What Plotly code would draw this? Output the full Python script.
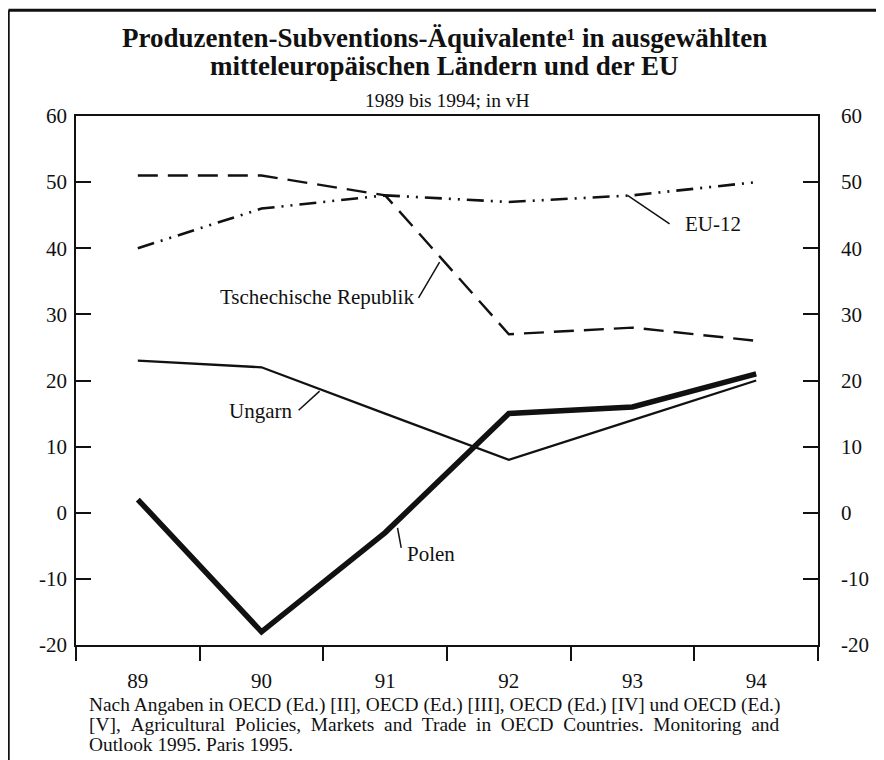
import plotly.graph_objects as go

JAHRE = ["89", "90", "91", "92", "93", "94"]
TSCHECHIEN = [51, 51, 48, 27, 28, 26]
EU12 = [40, 46, 48, 47, 48, 50]
UNGARN = [23, 22, 15, 8, 14, 20]
POLEN = [2, -18, -3, 15, 16, 21]
Y_TICKS = [-20, -10, 0, 10, 20, 30, 40, 50, 60]
Y_TICKTEXT = [str(v) for v in Y_TICKS]  # plain hyphen like the original

SERIF = "Liberation Serif, Times New Roman, serif"
INK = "#111111"
NB = "\u00a0"

fig = go.Figure()

fig.add_trace(go.Scatter(x=JAHRE, y=TSCHECHIEN, mode="lines",
                         line=dict(color=INK, width=2.4, dash="20px,10px")))
fig.add_trace(go.Scatter(x=JAHRE, y=EU12, mode="lines",
                         line=dict(color=INK, width=2.6,
                                   dash="17px,7px,2px,7px,2px,7px")))
fig.add_trace(go.Scatter(x=JAHRE, y=UNGARN, mode="lines",
                         line=dict(color=INK, width=2.3)))
fig.add_trace(go.Scatter(x=JAHRE, y=POLEN, mode="lines",
                         line=dict(color=INK, width=5.5)))
# invisible trace so the right axis is drawn
fig.add_trace(go.Scatter(x=JAHRE, y=EU12, yaxis="y2", mode="lines",
                         line=dict(width=0), hoverinfo="skip"))

labels = [
    # text, x, y, anchor, leader from, leader to
    ("EU-12", 4.41, 43.6, "left", (3.96, 48.0), (4.30, 43.7)),
    ("Tschechische Republik", 2.25, 32.6, "right", (2.27, 32.5), (2.44, 37.9)),
    ("Ungarn", 1.26, 15.4, "right", (1.30, 15.5), (1.47, 18.4)),
    ("Polen", 2.16, -6.3, "left", (2.13, -5.3), (2.10, -2.3)),
]
for text, x, y, anchor, p0, p1 in labels:
    fig.add_annotation(x=x, y=y, text=text, showarrow=False, xanchor=anchor,
                       font=dict(family=SERIF, size=21, color=INK))
    fig.add_shape(type="line", x0=p0[0], y0=p0[1], x1=p1[0], y1=p1[1],
                  line=dict(color=INK, width=1.5))

# frame around the whole figure (top and left edge)
fig.add_shape(type="line", xref="paper", yref="paper", x0=-0.091, x1=1.1,
              y0=1.2, y1=1.2, line=dict(color=INK, width=3))
fig.add_shape(type="line", xref="paper", yref="paper", x0=-0.091, x1=-0.091,
              y0=1.2, y1=-0.23, line=dict(color=INK, width=2.5))

titel = [
    "Produzenten-Subventions-Äquivalente¹ in ausgewählten",
    "mitteleuropäischen Ländern und der EU",
]
for i, line in enumerate(titel):
    fig.add_annotation(xref="paper", yref="paper", x=0.496, y=1.1474 - i * 0.053,
                       yanchor="middle", text=f"<b>{line}</b>", showarrow=False,
                       font=dict(family=SERIF, size=27, color=INK))

fig.add_annotation(xref="paper", yref="paper", x=0.5, y=1.0302, yanchor="middle",
                   text="1989 bis 1994; in vH", showarrow=False,
                   font=dict(family=SERIF, size=19.5, color=INK))

quelle = [
    "Nach Angaben in OECD (Ed.) [II], OECD (Ed.) [III], OECD (Ed.) [IV] und OECD (Ed.)",
    "[V], Agricultural Policies, Markets and Trade in OECD Countries. Monitoring and"
    .replace(" ", " " + NB),
    "Outlook 1995. Paris 1995.",
]
for i, line in enumerate(quelle):
    fig.add_annotation(xref="paper", yref="paper", x=0.0148, y=-0.1134 - i * 0.0375,
                       xanchor="left", yanchor="middle", text=line,
                       showarrow=False,
                       font=dict(family=SERIF, size=19.4, color=INK))

fig.update_layout(
    width=876,
    height=752,
    showlegend=False,
    paper_bgcolor="white",
    plot_bgcolor="white",
    margin=dict(l=68, r=66, t=108, b=115),
    font=dict(family=SERIF, size=21, color=INK),
    xaxis=dict(
        type="category", range=[-0.5, 5.5], tickson="boundaries",
        ticks="outside", ticklen=14, tickwidth=1.5, tickcolor=INK,
        showline=True, linecolor=INK, linewidth=1.5, mirror=True,
        showgrid=False, zeroline=False, ticklabelstandoff=16,
    ),
    yaxis=dict(
        range=[-20, 60], tickvals=Y_TICKS, ticktext=Y_TICKTEXT, ticks="inside",
        ticklen=15, tickwidth=1.5, tickcolor=INK, showline=True, linecolor=INK,
        linewidth=1.5, showgrid=False, zeroline=False, ticklabelstandoff=3,
    ),
    yaxis2=dict(
        range=[-20, 60], tickvals=Y_TICKS, ticktext=Y_TICKTEXT, ticks="inside",
        ticklen=15, tickwidth=1.5, tickcolor=INK, showline=True, linecolor=INK,
        linewidth=1.5, showgrid=False, zeroline=False, side="right",
        overlaying="y", ticklabelstandoff=17,
    ),
)

fig.write_html("out.html")
